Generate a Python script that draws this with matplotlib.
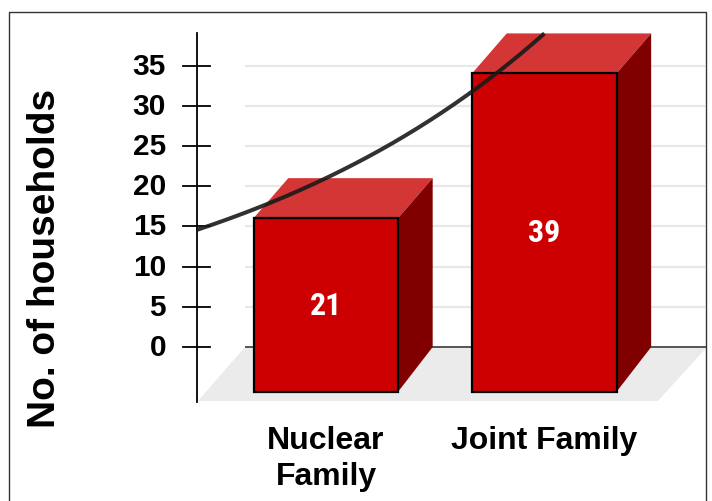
import numpy as np
import matplotlib
matplotlib.use("Agg")
import matplotlib.pyplot as plt
from matplotlib.patches import Polygon
from matplotlib.lines import Line2D
from matplotlib import font_manager

# --- data ---
categories = ["Nuclear\nFamily", "Joint Family"]
households = [21, 39]
y_ticks = [0, 5, 10, 15, 20, 25, 30, 35]
y_label = "No. of households"

# --- pseudo-3D geometry (data units: x = category index, y = households) ---
BAR_W = 0.661          # width of a bar's front face
DEPTH_X = 0.158        # horizontal depth offset (front -> back)
FRONT_TOP_DROP = 4.95  # front top edge sits this far below the back top edge
FRONT_BOTTOM = -5.55   # bottom edge of the front face
AXIS_X = -0.59         # position of the vertical value axis
AXIS_TOP = 39.0
WALL_LEFT, WALL_RIGHT = -0.371, 1.744
FLOOR_FRONT_Y = -6.72
FLOOR_FRONT_LEFT, FLOOR_FRONT_RIGHT = -0.586, 1.519

FRONT_COLOR = "#cc0000"
TOP_COLOR = "#d43535"
SIDE_COLOR = "#800000"

BOLD = ["Liberation Sans", "DejaVu Sans"]

# narrow bold face for the in-bar numbers
_names = {f.name for f in font_manager.fontManager.ttflist}
if "Liberation Sans Narrow" in _names:
    NARROW = dict(family="Liberation Sans Narrow")
elif "Roboto Condensed" in _names:
    NARROW = dict(family="Roboto Condensed")
else:
    NARROW = dict(family="DejaVu Sans", fontstretch="condensed")

fig = plt.figure(figsize=(7.12, 5.02), dpi=100)
ax = fig.add_axes([0, 0, 1, 1])
ax.set_xlim(-1.492, 1.767)
ax.set_ylim(-19.15, 43.28)
ax.axis("off")

# floor
floor = Polygon([(FLOOR_FRONT_LEFT, FLOOR_FRONT_Y), (FLOOR_FRONT_RIGHT, FLOOR_FRONT_Y),
                 (WALL_RIGHT, 0), (WALL_LEFT, 0)],
                closed=True, facecolor="#ebebeb", edgecolor="none", zorder=1)
ax.add_patch(floor)

# back-wall gridlines and zero line
for t in y_ticks:
    if t == 0:
        ax.plot([WALL_LEFT, WALL_RIGHT], [0, 0], color="#555555", lw=1.4, zorder=2,
                solid_capstyle="butt")
    else:
        ax.plot([WALL_LEFT, WALL_RIGHT - 0.01], [t, t], color="#e8e8e8", lw=1.6, zorder=2,
                solid_capstyle="butt")

# value axis with crossing ticks
ax.plot([AXIS_X, AXIS_X], [FLOOR_FRONT_Y - 0.15, AXIS_TOP], color="black", lw=1.3, zorder=3)
for t in y_ticks:
    ax.plot([AXIS_X - 0.064, AXIS_X + 0.059], [t, t], color="black", lw=1.3, zorder=3)
    ax.text(AXIS_X - 0.142, t, str(t), ha="right", va="center", fontsize=21.5,
            fontweight="bold", family=BOLD, zorder=3)

# bars
for i, v in enumerate(households):
    xl, xr = i - BAR_W / 2, i + BAR_W / 2
    ft = v - FRONT_TOP_DROP
    top = Polygon([(xl, ft), (xr, ft), (xr + DEPTH_X, v), (xl + DEPTH_X, v)],
                  closed=True, facecolor=TOP_COLOR, edgecolor="none", zorder=4)
    side = Polygon([(xr, FRONT_BOTTOM), (xr + DEPTH_X, 0), (xr + DEPTH_X, v), (xr, ft)],
                   closed=True, facecolor=SIDE_COLOR, edgecolor="none", zorder=4)
    front = Polygon([(xl, FRONT_BOTTOM), (xr, FRONT_BOTTOM), (xr, ft), (xl, ft)],
                    closed=True, facecolor=FRONT_COLOR, edgecolor="black", lw=1.6,
                    joinstyle="miter", zorder=5)
    for p in (top, side, front):
        ax.add_patch(p)
    ax.text(i, (FRONT_BOTTOM + ft) / 2, str(v), ha="center", va="center",
            color="white", fontsize=23, fontweight="bold", zorder=7, **NARROW)

# exponential trendline through the category values
b = np.log(households[1] / households[0])
a = households[0]
x_end = np.log(AXIS_TOP / a) / b
xs = np.linspace(AXIS_X, x_end, 200)
ax.plot(xs, a * np.exp(b * xs), color="#1a1a1a", lw=2.9, alpha=0.9, zorder=6,
        solid_capstyle="butt")

# category labels
for i, c in enumerate(categories):
    ax.text(i, -9.7, c, ha="center", va="top", multialignment="center",
            fontsize=23, fontweight="bold", family=BOLD, linespacing=1.25)

# axis title
fig.text(45 / 712, 1 - 258 / 502, y_label, rotation=90, ha="center", va="center",
         fontsize=28, fontweight="bold", family=BOLD)

# outer frame (left, top, right)
fx0, fx1, fy = 8.5 / 712, 706 / 712, 1 - 12.5 / 502
fig.add_artist(Line2D([fx0, fx0, fx1, fx1], [0, fy, fy, 0], transform=fig.transFigure,
                      color="#333333", lw=1.0))

fig.savefig("out.png", dpi=100)
